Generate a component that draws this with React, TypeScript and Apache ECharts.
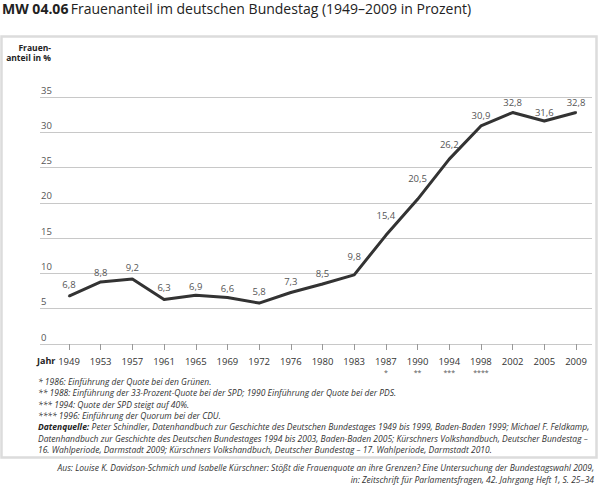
import React, { useEffect, useRef } from "react";
import * as echarts from "echarts";

const years = ["1949", "1953", "1957", "1961", "1965", "1969", "1972", "1976", "1980", "1983", "1987", "1990", "1994", "1998", "2002", "2005", "2009"];
const shares = [6.8, 8.8, 9.2, 6.3, 6.9, 6.6, 5.8, 7.3, 8.5, 9.8, 15.4, 20.5, 26.2, 30.9, 32.8, 31.6, 32.8];
const yearMarks = ["", "", "", "", "", "", "", "", "", "", "*", "**", "***", "****", "", "", ""];
const labelGap = [6, 3, 6, 6, 3, 3, 6, 5, 5, 12, 14, 15, 9, 4, 4, 2, 4];

const titleBold = "MW 04.06";
const titleText = "Frauenanteil im deutschen Bundestag (1949–2009 in Prozent)";
const yAxisNameLines = ["Frauen-", "anteil in %"];
const xAxisName = "Jahr";
const footnotes = [
  "* 1986: Einführung der Quote bei den Grünen.",
  "** 1988: Einführung der 33-Prozent-Quote bei der SPD; 1990 Einführung der Quote bei der PDS.",
  "*** 1994: Quote der SPD steigt auf 40%.",
  "**** 1996: Einführung der Quorum bei der CDU.",
];
const sourceLines = [
  "Peter Schindler, Datenhandbuch zur Geschichte des Deutschen Bundestages 1949 bis 1999, Baden-Baden 1999; Michael F. Feldkamp,",
  "Datenhandbuch zur Geschichte des Deutschen Bundestages 1994 bis 2003, Baden-Baden 2005; Kürschners Volkshandbuch, Deutscher Bundestag –",
  "16. Wahlperiode, Darmstadt 2009; Kürschners Volkshandbuch, Deutscher Bundestag – 17. Wahlperiode, Darmstadt 2010.",
];
const citation = [
  "Aus: Louise K. Davidson-Schmich und Isabelle Kürschner: Stößt die Frauenquote an ihre Grenzen? Eine Untersuchung der Bundestagswahl 2009,",
  "in: Zeitschrift für Parlamentsfragen, 42. Jahrgang Heft 1, S. 25–34",
];

const FONT = "'Open Sans', 'Noto Sans', sans-serif";

function txt(text: string, x: number, y: number, opts: any = {}) {
  const align = opts.align || "left";
  return {
    type: "text",
    x,
    y,
    silent: true,
    style: {
      text,
      fill: opts.fill || "#333",
      fontFamily: FONT,
      fontSize: opts.size || 9,
      fontStyle: opts.italic ? "italic" : "normal",
      fontWeight: opts.bold ? "bold" : "normal",
      align,
      textAlign: align,
      verticalAlign: "middle",
      textVerticalAlign: "middle",
      rich: opts.rich,
    },
  };
}

export default function App() {
  const ref = useRef<HTMLDivElement>(null);
  useEffect(() => {
    if (!ref.current) return;
    const chart = echarts.init(ref.current, null, { renderer: "svg" });
    const graphics: any[] = [
      {
        type: "rect",
        shape: { x: 1.5, y: 36.5, width: 595, height: 421 },
        style: { fill: "none", stroke: "#dcdcdc", lineWidth: 2.5 },
        silent: true,
      },
      txt(`{b|${titleBold}} {r|${titleText}}`, 2, 8, {
        rich: {
          b: { fontFamily: FONT, fontSize: 14, fontWeight: "bold", fill: "#222" },
          r: { fontFamily: FONT, fontSize: 14, fill: "#222" },
        },
      }),
      txt(xAxisName, 37, 360, { bold: true, size: 9, fill: "#222" }),
    ];
    yAxisNameLines.forEach((l, i) => graphics.push(txt(l, 51, 47 + i * 10.5, { bold: true, size: 8.5, align: "right", fill: "#222" })));
    footnotes.forEach((f, i) => graphics.push(txt(f, 38, 381.5 + i * 11.4, { italic: true, size: 8.5, fill: "#333" })));
    sourceLines.forEach((s, i) => {
      if (i === 0) {
        graphics.push(
          txt(`{b|Datenquelle:} {r|${s}}`, 38, 426.5, {
            rich: {
              b: { fontFamily: FONT, fontSize: 8.5, fontStyle: "italic", fontWeight: "bold", fill: "#222" },
              r: { fontFamily: FONT, fontSize: 8.5, fontStyle: "italic", fill: "#333" },
            },
          })
        );
      } else {
        graphics.push(txt(s, 38, 426.5 + i * 11.7, { italic: true, size: 8.5, fill: "#333" }));
      }
    });
    citation.forEach((c, i) => graphics.push(txt(c, 594, 467 + i * 12, { italic: true, size: 8.5, align: "right", fill: "#333" })));

    const option: any = {
      animation: false,
      backgroundColor: "#fff",
      textStyle: { fontFamily: FONT },
      grid: [
        { left: 40, right: 8, top: 97, height: 247 },
        { left: 69, right: 24, top: 97, height: 247 },
      ],
      xAxis: [
        { gridIndex: 0, type: "value", min: 0, max: 1, show: false },
        {
          gridIndex: 1,
          type: "category",
          data: years,
          boundaryGap: false,
          axisLine: { show: false },
          axisTick: { show: true, length: 6, lineStyle: { color: "#999" } },
          axisLabel: {
            margin: 11,
            interval: 0,
            formatter: (v: string, i: number) => (yearMarks[i] ? `{y|${v}}\n{s|${yearMarks[i]}}` : `{y|${v}}`),
            rich: {
              y: { fontFamily: FONT, fontSize: 9.5, color: "#333", lineHeight: 12 },
              s: { fontFamily: FONT, fontSize: 7, color: "#555", lineHeight: 10 },
            },
            verticalAlign: "top",
          },
        },
      ],
      yAxis: [
        {
          gridIndex: 0,
          type: "value",
          min: 0,
          max: 35,
          interval: 5,
          axisLine: { show: false },
          axisTick: { show: false },
          splitLine: { lineStyle: { color: "#c8c8c8", width: 1 } },
          axisLabel: {
            inside: true,
            margin: 1,
            verticalAlign: "bottom",
            padding: [0, 0, 2, 0],
            color: "#555",
            fontSize: 9.5,
            fontFamily: FONT,
          },
        },
        { gridIndex: 1, type: "value", min: 0, max: 35, show: false },
      ],
      series: [
        {
          type: "line",
          xAxisIndex: 1,
          yAxisIndex: 1,
          symbol: "circle",
          symbolSize: 2,
          itemStyle: { color: "#333" },
          lineStyle: { color: "#333", width: 3 },
          data: shares.map((v, i) => ({ value: v, label: { distance: labelGap[i] } })),
          label: {
            show: true,
            position: "top",
            color: "#555",
            fontSize: 9.5,
            fontFamily: FONT,
            formatter: (p: any) => String(p.value).replace(".", ","),
          },
        },
      ],
      graphic: graphics,
    };
    chart.setOption(option);
    return () => chart.dispose();
  }, []);
  return <div ref={ref} style={{ position: "absolute", left: 0, top: 0, width: 600, height: 485 }} />;
}
